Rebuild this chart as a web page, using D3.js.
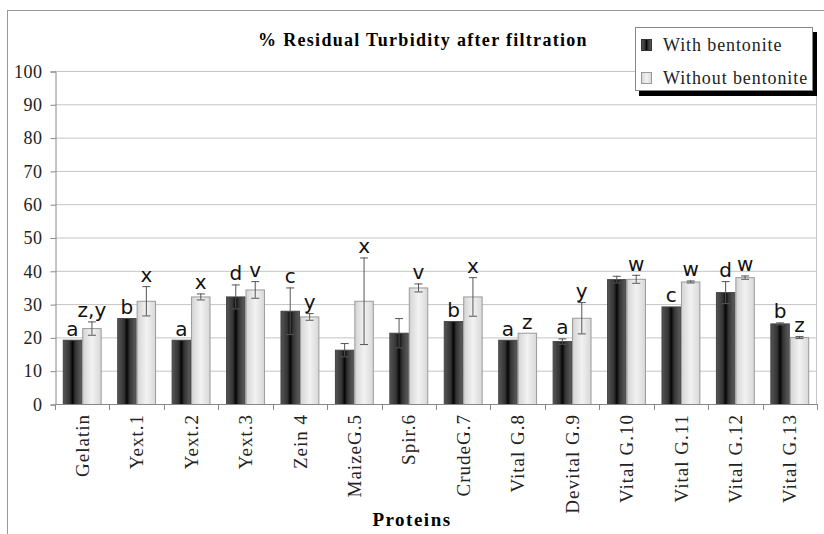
<!DOCTYPE html>
<html>
<head>
<meta charset="utf-8">
<script src="https://cdn.jsdelivr.net/npm/d3@7"></script>
<style>
  body { margin: 0; background: #fff; }
  svg text { font-family: "Liberation Serif", "Times New Roman", serif; }
</style>
</head>
<body>
<div id="chart"></div>
<script>
// data
var proteins = ["Gelatin", "Yext.1", "Yext.2", "Yext.3", "Zein 4", "MaizeG.5", "Spir.6",
    "CrudeG.7", "Vital G.8", "Devital G.9", "Vital G.10", "Vital G.11", "Vital G.12", "Vital G.13"];
var series = ["With bentonite", "Without bentonite"];
var withBent = [19.3, 25.8, 19.3, 32.3, 28, 16.3, 21.4, 24.9, 19.3, 18.9, 37.5, 29.3, 33.6, 24.2];
var withErr = [0, 0, 0, 3.6, 7, 2, 4.4, 0, 0, 0.8, 1, 0, 3.3, 0.3];
var withoutBent = [22.8, 31, 32.3, 34.4, 26.3, 31, 35, 32.3, 21.4, 25.9, 37.6, 36.8, 38.1, 20.1];
var withoutErr = [2, 4.4, 0.9, 2.5, 1, 13, 1.2, 5.8, 0, 4.7, 1.2, 0.3, 0.5, 0.3];
var withLetters = ["a", "b", "a", "d", "c", "", "", "b", "a", "a", "", "c", "d", "b"];
var withoutLetters = ["z,y", "x", "x", "v", "y", "x", "v", "x", "z", "y", "w", "w", "w", "z"];
var yTicks = [0, 10, 20, 30, 40, 50, 60, 70, 80, 90, 100];

var width = 824, height = 534;
var margin = {left: 55, right: 7, top: 71, bottom: 130};

var svg = d3.select("#chart").append("svg")
    .attr("width", width)
    .attr("height", height);

// gradients like the old excel shaded bars
var defs = svg.append("defs");
var gDark = defs.append("linearGradient").attr("id", "gDark");
gDark.append("stop").attr("offset", "0%").attr("stop-color", "#555");
gDark.append("stop").attr("offset", "35%").attr("stop-color", "#333");
gDark.append("stop").attr("offset", "50%").attr("stop-color", "#050505");
gDark.append("stop").attr("offset", "65%").attr("stop-color", "#333");
gDark.append("stop").attr("offset", "100%").attr("stop-color", "#5e5e5e");
var gLight = defs.append("linearGradient").attr("id", "gLight");
gLight.append("stop").attr("offset", "0%").attr("stop-color", "#d4d4d4");
gLight.append("stop").attr("offset", "50%").attr("stop-color", "#f2f2f2");
gLight.append("stop").attr("offset", "100%").attr("stop-color", "#d8d8d8");

// outer frame
svg.append("rect")
    .attr("x", 7.5).attr("y", 10.5)
    .attr("width", 830).attr("height", 540)
    .attr("fill", "none")
    .attr("stroke", "#999");

var x0 = d3.scaleBand()
    .domain(proteins)
    .range([margin.left, width - margin.right]);

var x1 = d3.scaleBand()
    .domain(series)
    .range([0, x0.bandwidth()])
    .paddingOuter(0.4);

var y = d3.scaleLinear()
    .domain([0, 100])
    .range([height - margin.bottom, margin.top]);

// grid
svg.append("g")
    .selectAll("line")
    .data(yTicks.slice(1))
    .enter().append("line")
    .attr("x1", margin.left).attr("x2", width - margin.right)
    .attr("y1", function(d) { return y(d) + 0.5; })
    .attr("y2", function(d) { return y(d) + 0.5; })
    .attr("stroke", "#c4c4c4");

svg.append("line")
    .attr("x1", width - margin.right - 0.5).attr("x2", width - margin.right - 0.5)
    .attr("y1", y(100)).attr("y2", y(0))
    .attr("stroke", "#c4c4c4");

// y axis
var yAxis = svg.append("g")
    .attr("transform", "translate(" + (margin.left + 0.5) + ",0.5)")
    .call(d3.axisLeft(y).tickValues(yTicks).tickSize(5).tickPadding(8));
yAxis.select(".domain").attr("stroke", "#888");
yAxis.selectAll(".tick line").attr("stroke", "#888");
yAxis.selectAll("text")
    .style("font-family", "Liberation Serif")
    .style("font-size", "18px")
    .style("letter-spacing", "0.5px")
    .attr("fill", "#222");

// bars
var groups = svg.append("g")
    .selectAll("g")
    .data(proteins)
    .enter().append("g")
    .attr("transform", function(d) { return "translate(" + x0(d) + ",0)"; });

var rows = proteins.map(function(p, i) {
    return [
        {key: series[0], value: withBent[i], err: withErr[i], letter: withLetters[i]},
        {key: series[1], value: withoutBent[i], err: withoutErr[i], letter: withoutLetters[i]}
    ];
});

groups.each(function(p, i) {
    var g = d3.select(this);
    var d = rows[i];

    g.selectAll("rect")
        .data(d)
        .enter().append("rect")
        .attr("x", function(e) { return x1(e.key) + 0.5; })
        .attr("y", function(e) { return y(e.value) + 0.5; })
        .attr("width", x1.bandwidth() - 1)
        .attr("height", function(e) { return y(0) - y(e.value); })
        .attr("fill", function(e, j) { return j == 0 ? "url(#gDark)" : "url(#gLight)"; })
        .attr("stroke", function(e, j) { return j == 0 ? "#444" : "#9a9a9a"; })
        .attr("stroke-width", 1);

    // error bars
    var eb = g.selectAll(".err")
        .data(d.filter(function(e) { return e.err > 0; }))
        .enter().append("g")
        .attr("class", "err")
        .attr("stroke", "#555")
        .attr("stroke-width", 1);
    eb.append("line")
        .attr("x1", function(e) { return x1(e.key) + x1.bandwidth() / 2; })
        .attr("x2", function(e) { return x1(e.key) + x1.bandwidth() / 2; })
        .attr("y1", function(e) { return y(e.value + e.err); })
        .attr("y2", function(e) { return y(e.value - e.err); });
    [1, -1].forEach(function(s) {
        eb.append("line")
            .attr("x1", function(e) { return x1(e.key) + x1.bandwidth() / 2 - 4; })
            .attr("x2", function(e) { return x1(e.key) + x1.bandwidth() / 2 + 4; })
            .attr("y1", function(e) { return y(e.value + s * e.err) + 0.5; })
            .attr("y2", function(e) { return y(e.value + s * e.err) + 0.5; });
    });

    // significance letters
    g.selectAll(".letter")
        .data(d)
        .enter().append("text")
        .attr("class", "letter")
        .attr("x", function(e) { return x1(e.key) + x1.bandwidth() / 2; })
        .attr("y", function(e) { return y(e.value + e.err) - 4; })
        .attr("text-anchor", "middle")
        .style("font-family", "DejaVu Sans")
        .style("font-size", "20px")
        .attr("fill", "#111")
        .text(function(e) { return e.letter; });
});

// x axis
svg.append("line")
    .attr("x1", margin.left).attr("x2", width - margin.right)
    .attr("y1", y(0) + 0.5).attr("y2", y(0) + 0.5)
    .attr("stroke", "#888");
svg.append("g")
    .selectAll("line")
    .data(proteins.concat(["end"]))
    .enter().append("line")
    .attr("x1", function(d, i) { return Math.round(margin.left + i * x0.step()) + 0.5; })
    .attr("x2", function(d, i) { return Math.round(margin.left + i * x0.step()) + 0.5; })
    .attr("y1", y(0)).attr("y2", y(0) + 6)
    .attr("stroke", "#888");

var xAxis = svg.append("g")
    .attr("transform", "translate(0," + y(0) + ")")
    .call(d3.axisBottom(x0).tickSize(0).tickPadding(0));
xAxis.select(".domain").remove();
xAxis.selectAll("text")
    .attr("transform", "rotate(-90)")
    .attr("x", -10)
    .attr("y", 0)
    .attr("dy", "0.35em")
    .attr("text-anchor", "end")
    .style("font-family", "Liberation Serif")
    .style("font-size", "19px")
    .style("letter-spacing", "1px")
    .attr("fill", "#222");

// titles
svg.append("text")
    .attr("x", 423).attr("y", 46)
    .attr("text-anchor", "middle")
    .style("font-size", "18px")
    .style("letter-spacing", "1.3px")
    .style("font-weight", "bold")
    .text("% Residual Turbidity after filtration");

svg.append("text")
    .attr("x", 412).attr("y", 526)
    .attr("text-anchor", "middle")
    .style("font-size", "19px")
    .style("letter-spacing", "1.5px")
    .style("font-weight", "bold")
    .text("Proteins");

// legend with black shadow
var legend = svg.append("g").attr("transform", "translate(635,27)");
legend.append("rect")
    .attr("x", 4).attr("y", 5)
    .attr("width", 178).attr("height", 64)
    .attr("fill", "#000");
legend.append("rect")
    .attr("x", 0.5).attr("y", 0.5)
    .attr("width", 177).attr("height", 63)
    .attr("fill", "#fff")
    .attr("stroke", "#888");
var li = legend.selectAll(".li")
    .data(series)
    .enter().append("g")
    .attr("class", "li")
    .attr("transform", function(d, i) { return "translate(0," + (i * 33) + ")"; });
li.append("rect")
    .attr("x", 6.5).attr("y", 12.5)
    .attr("width", 10).attr("height", 11)
    .attr("fill", function(d, i) { return i == 0 ? "url(#gDark)" : "url(#gLight)"; })
    .attr("stroke", function(d, i) { return i == 0 ? "#333" : "#999"; });
li.append("text")
    .attr("x", 28).attr("y", 24)
    .style("font-size", "18px")
    .style("letter-spacing", "0.9px")
    .attr("fill", "#222")
    .text(function(d) { return d; });
</script>
</body>
</html>
